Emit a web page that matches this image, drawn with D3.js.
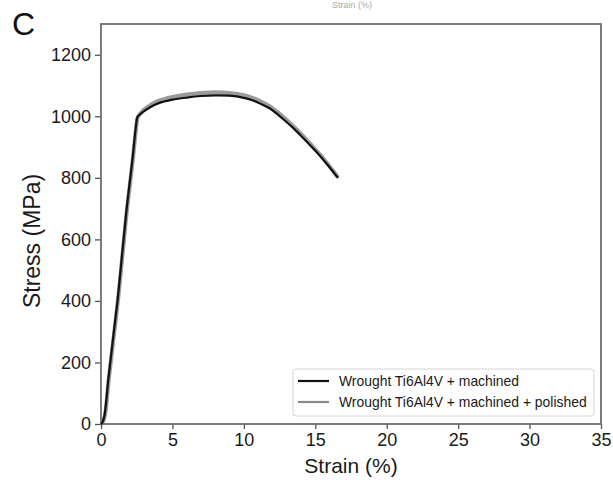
<!DOCTYPE html>
<html>
<head>
<meta charset="utf-8">
<script src="https://cdn.jsdelivr.net/npm/d3@7"></script>
<style>
  body { margin: 0; background: #fff; }
  text { font-family: "Liberation Sans", Arial, sans-serif; }
</style>
</head>
<body>
<div id="chart"></div>
<script>
// strain (%) / stress (MPa)
const strainMachined = [0, 0.1, 0.25, 0.4, 0.5, 0.8, 1.2, 1.75, 2.2, 2.45, 2.55, 2.7, 3.0, 3.5, 4, 5, 6, 7, 8, 9, 10, 10.6, 11.2, 11.8, 12.4, 13, 13.5, 14.1, 14.7, 15.3, 15.9, 16.5, 16.6];
const stressMachined = [0, 5, 30, 90, 140, 260, 420, 680, 860, 970, 998, 1005, 1016, 1031, 1042, 1054, 1061, 1066, 1068, 1067, 1060, 1052, 1040, 1026, 1005, 981, 960, 932, 903, 873, 840, 805, 800];
const strainPolished = [0, 0.12, 0.28, 0.43, 0.53, 0.83, 1.23, 1.78, 2.23, 2.48, 2.58, 2.75, 3.0, 3.5, 4, 5, 6, 7, 8, 9, 10, 10.6, 11.2, 11.8, 12.4, 13, 13.5, 14.1, 14.7, 15.3, 15.9, 16.5, 16.6];
const stressPolished = [0, 5, 30, 90, 140, 260, 420, 680, 860, 970, 998, 1009, 1021, 1038, 1050, 1063, 1071, 1076, 1078, 1076, 1069, 1060, 1048, 1033, 1012, 988, 966, 938, 908, 877, 843, 807, 801];
const xTicks = [0, 5, 10, 15, 20, 25, 30, 35];
const yTicks = [0, 200, 400, 600, 800, 1000, 1200];
const seriesNames = ["Wrought Ti6Al4V + machined", "Wrought Ti6Al4V + machined + polished"];

const W = 613, H = 483;
const margin = { top: 24, right: 12, bottom: 59, left: 101 };

const svg = d3.select("#chart").append("svg")
  .attr("width", W)
  .attr("height", H);

const x = d3.scaleLinear().domain([0, 35]).range([margin.left, W - margin.right]);
const y = d3.scaleLinear().domain([0, 1300]).range([H - margin.bottom, margin.top]);

// panel letter and the faint title left over from the panel above
svg.append("text").attr("x", 12).attr("y", 35)
  .style("font-size", "32px").attr("fill", "#111").text("C");
svg.append("text").attr("x", 352).attr("y", 8)
  .attr("text-anchor", "middle")
  .style("font-size", "9px").attr("fill", "#aaa").text("Strain (%)");

// axes
const xAxis = svg.append("g")
  .attr("transform", `translate(0,${y(0)})`)
  .call(d3.axisBottom(x).tickValues(xTicks).tickSize(5).tickPadding(4).tickSizeOuter(0));
const yAxis = svg.append("g")
  .attr("transform", `translate(${x(0)},0)`)
  .call(d3.axisLeft(y).tickValues(yTicks).tickFormat(d3.format("d"))
    .tickSize(6).tickPadding(4).tickSizeOuter(0));

[xAxis, yAxis].forEach(g => {
  g.select(".domain").remove();
  g.selectAll(".tick line").attr("stroke", "#555").attr("stroke-width", 1.3);
  g.selectAll(".tick text").attr("fill", "#1a1a1a").style("font-size", "18px")
    .style("font-family", "'Liberation Sans', Arial, sans-serif");
});

// frame
svg.append("rect")
  .attr("x", x(0)).attr("y", y(1300))
  .attr("width", x(35) - x(0)).attr("height", y(0) - y(1300))
  .attr("fill", "none").attr("stroke", "#6e6e6e").attr("stroke-width", 1.8);

// axis titles
svg.append("text")
  .attr("x", (x(0) + x(35)) / 2).attr("y", 473)
  .attr("text-anchor", "middle")
  .style("font-size", "21px").attr("fill", "#1a1a1a")
  .text("Strain (%)");
svg.append("text")
  .attr("transform", "translate(40,241) rotate(-90)")
  .attr("text-anchor", "middle")
  .style("font-size", "23px").attr("fill", "#1a1a1a")
  .text("Stress (MPa)");

// curves
const line = d3.line().x(d => x(d[0])).y(d => y(d[1])).curve(d3.curveCatmullRom);

svg.append("path")
  .datum(d3.zip(strainPolished, stressPolished))
  .attr("d", line)
  .attr("fill", "none").attr("stroke", "#8a8a8a").attr("stroke-width", 4)
  .attr("stroke-opacity", 0.85);

svg.append("path")
  .datum(d3.zip(strainMachined, stressMachined))
  .attr("d", line)
  .attr("fill", "none").attr("stroke", "#111").attr("stroke-width", 2.2);

// legend
const legend = svg.append("g").attr("transform", "translate(293,369)");
legend.append("rect")
  .attr("width", 301).attr("height", 47).attr("rx", 3)
  .attr("fill", "#fff").attr("fill-opacity", 0.85)
  .attr("stroke", "#d4d4d4").attr("stroke-width", 1);
const legendColors = ["#111", "#8a8a8a"];
seriesNames.forEach((name, i) => {
  const ly = 12 + i * 21;
  legend.append("line")
    .attr("x1", 5).attr("x2", 36).attr("y1", ly).attr("y2", ly)
    .attr("stroke", legendColors[i]).attr("stroke-width", 2.2);
  legend.append("text")
    .attr("x", 46).attr("y", ly).attr("dy", "0.35em")
    .style("font-size", "13.9px").attr("fill", "#1a1a1a")
    .text(name);
});
</script>
</body>
</html>
